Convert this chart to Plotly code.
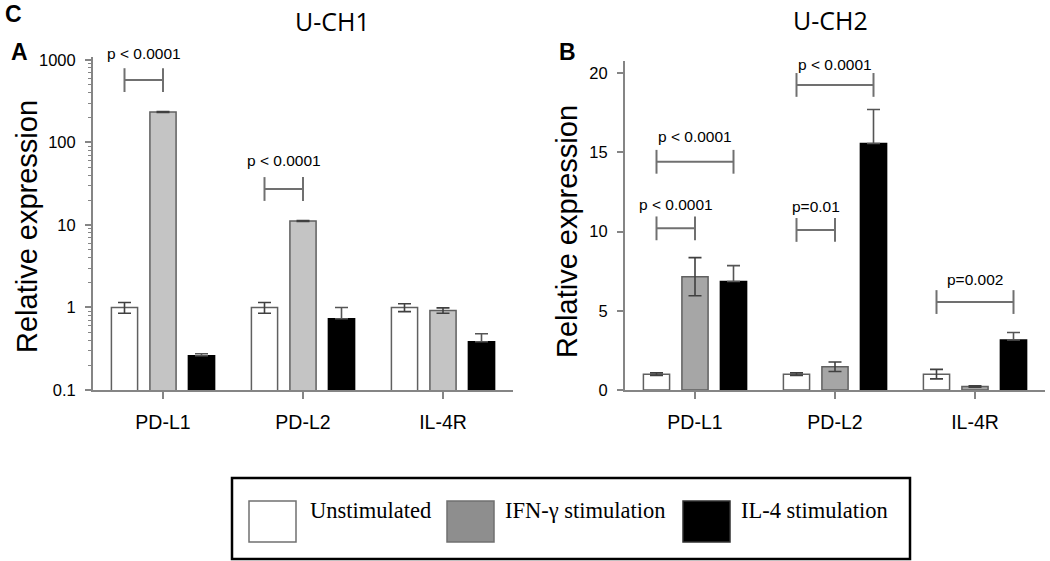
import math
import plotly.graph_objects as go

W, H = 1050, 561

# ---------------- data ----------------
genes = ["PD-L1", "PD-L2", "IL-4R"]
series = ["Unstimulated", "IFN-γ stimulation", "IL-4 stimulation"]

# U-CH1 (panel A, log scale)
uch1_unstim = [1.0, 1.0, 1.0]
uch1_ifn = [234, 11.2, 0.92]
uch1_il4 = [0.26, 0.73, 0.385]
uch1_unstim_err = [0.15, 0.15, 0.11]
uch1_ifn_err = [3, 0.15, 0.07]
uch1_il4_err = [0.015, 0.27, 0.095]

# U-CH2 (panel B, linear scale)
uch2_unstim = [1.0, 1.0, 1.0]
uch2_ifn = [7.15, 1.47, 0.22]
uch2_il4 = [6.85, 15.55, 3.16]
uch2_unstim_err = [0.08, 0.08, 0.3]
uch2_ifn_err = [1.2, 0.3, 0.05]
uch2_il4_err = [1.0, 2.15, 0.47]

# significance brackets: (gene index, from series, to series, bracket y, text, text y)
uch1_br_gene = [0, 1]
uch1_br_from = [0, 0]
uch1_br_to = [1, 1]
uch1_br_y = [570, 27.3]
uch1_br_text = ["p < 0.0001", "p < 0.0001"]
uch1_br_text_y = [1210, 61]

uch2_br_gene = [0, 0, 1, 1, 2]
uch2_br_from = [0, 0, 0, 0, 0]
uch2_br_to = [1, 2, 1, 2, 2]
uch2_br_y = [10.2, 14.4, 10.1, 19.25, 5.55]
uch2_br_text = ["p < 0.0001", "p < 0.0001", "p=0.01", "p < 0.0001", "p=0.002"]
uch2_br_text_y = [11.7, 16.0, 11.6, 20.55, 6.95]

y1_ticks = [0.1, 1, 10, 100, 1000]
y1_ticktext = ["0.1", "1", "10", "100", "1000"]
y1_minor = [m * d for d in (0.1, 1, 10, 100) for m in range(2, 10)]
y2_ticks = [0, 5, 10, 15, 20]

Y1_RANGE = [-1, 3.036]      # log10 units
Y2_RANGE = [0, 20.76]

# ---------------- style ----------------
BARGAP = 0.175
GROUPGAP = 0.32
SLOT = (1 - BARGAP) / 3
SANS = "Liberation Sans, Arial"
AX = "#858585"
EDGE = "#606060"

fill1 = ["white", "#c4c4c4", "black"]
fill2 = ["white", "#a6a6a6", "black"]
edge = [EDGE, EDGE, "black"]
errc = ["#404040", "#404040", "#555555"]
err_down = [True, True, False]   # lower whisker hidden inside black bars

fig = go.Figure()
xs = list(range(len(genes)))

def add_bars(vals, errs, fills, xa, ya):
    for i, (v, e) in enumerate(zip(vals, errs)):
        fig.add_trace(go.Bar(
            x=xs, y=v, name=series[i], xaxis=xa, yaxis=ya,
            offsetgroup=str(i),
            marker=dict(color=fills[i], line=dict(color=edge[i], width=1.5)),
            error_y=dict(type="data", array=e,
                         arrayminus=e if err_down[i] else [0] * len(e),
                         symmetric=False, visible=True, color=errc[i],
                         thickness=1.6, width=6.5),
            showlegend=False, hoverinfo="skip",
        ))

add_bars([uch1_unstim, uch1_ifn, uch1_il4],
         [uch1_unstim_err, uch1_ifn_err, uch1_il4_err], fill1, "x", "y")
add_bars([uch2_unstim, uch2_ifn, uch2_il4],
         [uch2_unstim_err, uch2_ifn_err, uch2_il4_err], fill2, "x2", "y2")

ann = []

def add_brackets(gene, fr, to, by, txt, ty, xa, ya, log, yrange):
    for g, a, b, yv, t, tyv in zip(gene, fr, to, by, txt, ty):
        x0 = g + (a - 1) * SLOT
        x1 = g + (b - 1) * SLOT
        fig.add_trace(go.Scatter(
            x=[x0, x1], y=[yv, yv], mode="lines+markers", xaxis=xa, yaxis=ya,
            line=dict(color="#707070", width=2),
            marker=dict(symbol="line-ns", size=17,
                        line=dict(color="#707070", width=2)),
            showlegend=False, hoverinfo="skip", cliponaxis=False,
        ))
        r = math.log10(tyv) if log else tyv
        frac = (r - yrange[0]) / (yrange[1] - yrange[0])
        ann.append(dict(
            x=(x0 + x1) / 2, y=frac,
            xref=xa, yref=ya + " domain", text=t, showarrow=False,
            xanchor="center", yanchor="middle",
            font=dict(family=SANS, size=15.5, color="black"),
        ))

add_brackets(uch1_br_gene, uch1_br_from, uch1_br_to, uch1_br_y,
             uch1_br_text, uch1_br_text_y, "x", "y", True, Y1_RANGE)
add_brackets(uch2_br_gene, uch2_br_from, uch2_br_to, uch2_br_y,
             uch2_br_text, uch2_br_text_y, "x2", "y2", False, Y2_RANGE)

def px(x):
    return x / W

def py(y):
    return 1 - y / H

xaxis_common = dict(
    tickvals=xs, ticktext=genes, range=[-0.5, 2.5],
    showline=True, linecolor=AX, linewidth=2,
    ticks="outside", ticklen=7, tickwidth=1.5, tickcolor=AX,
    showgrid=False, zeroline=False, ticklabelstandoff=7, automargin=False,
    tickfont=dict(family=SANS, size=19.5, color="black"),
)
yaxis_common = dict(
    showline=True, linecolor=AX, linewidth=2,
    ticks="outside", ticklen=6, tickwidth=1.5, tickcolor=AX,
    showgrid=False, zeroline=False, ticklabelstandoff=6, automargin=False,
    tickfont=dict(family=SANS, size=16.5, color="black"),
)

fig.update_layout(
    width=W, height=H,
    margin=dict(l=0, r=0, t=0, b=0, autoexpand=False),
    paper_bgcolor="white", plot_bgcolor="white",
    barmode="group", bargap=BARGAP, bargroupgap=GROUPGAP,
    xaxis=dict(domain=[px(93), px(513)], anchor="y", **xaxis_common),
    yaxis=dict(domain=[py(390), py(57)], anchor="x", type="log",
               range=Y1_RANGE, tickvals=y1_ticks, ticktext=y1_ticktext,
               minor=dict(tickvals=y1_minor, ticks="outside", ticklen=3,
                          tickcolor=AX, tickwidth=1, showgrid=False),
               **yaxis_common),
    xaxis2=dict(domain=[px(625), px(1045)], anchor="y2", **xaxis_common),
    yaxis2=dict(domain=[py(390), py(61)], anchor="x2",
                range=Y2_RANGE, tickvals=y2_ticks, **yaxis_common),
)

def text(x, y, t, size, family=SANS, bold=False, angle=0, xanchor="center"):
    ann.append(dict(x=px(x), y=py(y), xref="paper", yref="paper",
                    text=f"<b>{t}</b>" if bold else t, showarrow=False,
                    xanchor=xanchor, yanchor="middle", textangle=angle,
                    font=dict(family=family, size=size, color="black")))

text(13, 14, "C", 23, bold=True)
text(19, 52, "A", 23, bold=True)
text(567, 52, "B", 23, bold=True)
text(332, 21, "U-CH1", 25, family="Open Sans, Noto Sans")
text(830, 20, "U-CH2", 25, family="Open Sans, Noto Sans")
text(27, 227, "Relative expression", 29, angle=-90)
text(567, 232, "Relative expression", 29, angle=-90)

# legend box
shapes = [dict(type="rect", xref="paper", yref="paper",
               x0=px(232), x1=px(910), y0=py(559), y1=py(478),
               line=dict(color="black", width=2.5), fillcolor="rgba(0,0,0,0)")]
legend_fill = ["white", "#8e8e8e", "black"]
legend_edge = ["#707070", "#707070", "#303030"]
sw_x = [249, 447, 683]
tx_x = [308, 503, 739]
for i in range(3):
    shapes.append(dict(type="rect", xref="paper", yref="paper",
                       x0=px(sw_x[i]), x1=px(sw_x[i] + 47), y0=py(542), y1=py(501),
                       line=dict(color=legend_edge[i], width=1.5),
                       fillcolor=legend_fill[i]))
    text(tx_x[i], 510, series[i], 22.5, family="Liberation Serif, Times New Roman",
         xanchor="left")

fig.update_layout(annotations=ann, shapes=shapes)

fig.write_html(
    "out.html",
    config={"displayModeBar": False},
    post_script="document.body.style.margin='0';document.body.style.overflow='hidden';",
)
